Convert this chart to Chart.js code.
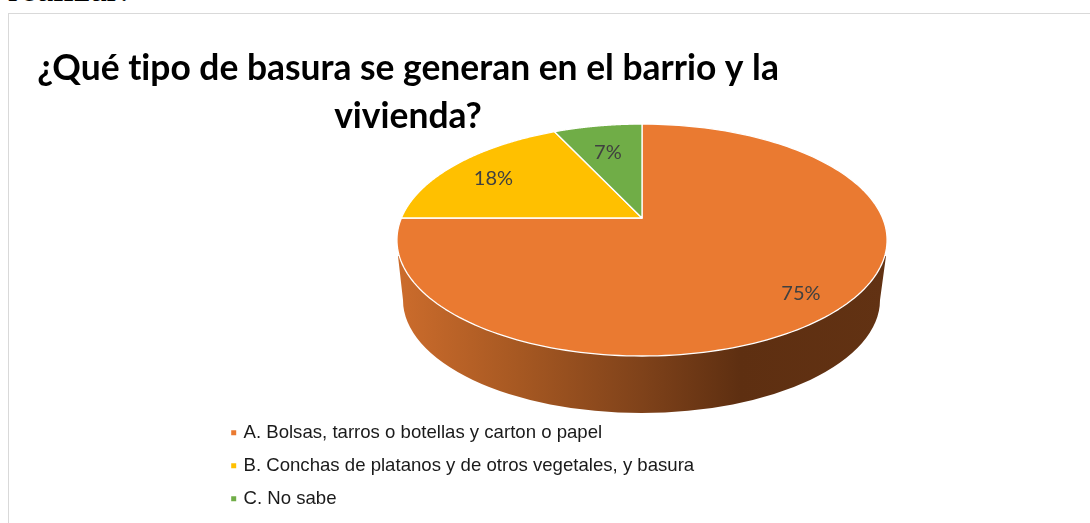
<!DOCTYPE html>
<html lang="es">
<head>
<meta charset="utf-8">
<title>Basura</title>
<script src="https://cdn.jsdelivr.net/npm/chart.js@4/dist/chart.umd.min.js"></script>
<style>
html,body{margin:0;padding:0;background:#fff;width:1090px;height:523px;overflow:hidden}
#intro{position:absolute;left:8px;top:-31px;font:37px/40px "Liberation Serif",serif;color:#000;white-space:nowrap}
#frame{position:absolute;left:8px;top:13px;width:1100px;height:540px;border:1.5px solid #d9d9d9;box-sizing:border-box}
canvas{position:absolute;left:0;top:0}
</style>
</head>
<body>
<div id="intro">realizar:</div>
<div id="frame"></div>
<canvas id="c" width="1090" height="523"></canvas>
<script>
const titleLines = ['¿Qué tipo de basura se generan en el barrio y la', 'vivienda?'];
const categories = ['A. Bolsas, tarros o botellas y carton o papel', 'B. Conchas de platanos y de otros vegetales, y basura', 'C. No sabe'];
const values = [75, 18, 7];
const colors = ['#EA7A31', '#FFC000', '#70AD47'];
const labelRadius = [0.83, 0.79, 0.74];

// Perspective view of the pie plate
const view = { cx: 642, cy: 218, bx: 240.6, by: 111.8, k: 0.19 };
const project = (angle, f) => {
  const u = Math.cos(angle) * f, v = -Math.sin(angle) * f, w = 1 + view.k * v;
  return { x: view.cx + view.bx * u / w, y: view.cy - view.by * v / w };
};

const pie3d = {
  id: 'pie3d',
  afterLayout(chart) {
    const t = chart.titleBlock;
    t.left = 8; t.right = 808; t.top = 35;
    const l = chart.legend;
    l.left = 218.8; l.top = 409; l.right = 1000; l.bottom = 523;
  },
  beforeDraw(chart) {
    chart.ctx.letterSpacing = '0.001px';
  },
  beforeDatasetDraw(chart, args) {
    const ctx = chart.ctx;
    const arcs = chart.getDatasetMeta(args.index).data;
    ctx.save();
    // side wall
    const g = ctx.createLinearGradient(397, 0, 887, 0);
    g.addColorStop(0, '#CC6C2C');
    g.addColorStop(0.25, '#A65822');
    g.addColorStop(0.5, '#7F421A');
    g.addColorStop(0.7, '#5E2F11');
    g.addColorStop(1, '#623213');
    ctx.beginPath();
    ctx.moveTo(398, 256);
    ctx.lineTo(403, 300);
    ctx.ellipse(641.5, 300, 238.5, 113, 0, Math.PI, 0, true);
    ctx.lineTo(886, 256);
    ctx.closePath();
    ctx.fillStyle = g;
    ctx.fill();
    // top faces
    arcs.forEach((arc, i) => {
      const a0 = arc.startAngle, a1 = arc.endAngle, n = 180;
      ctx.beginPath();
      ctx.moveTo(view.cx, view.cy);
      for (let s = 0; s <= n; s++) {
        const p = project(a0 + (a1 - a0) * s / n, 1);
        ctx.lineTo(p.x, p.y);
      }
      ctx.closePath();
      ctx.fillStyle = colors[i];
      ctx.fill();
      ctx.lineJoin = 'round';
      ctx.strokeStyle = '#fff';
      ctx.lineWidth = 1.3;
      ctx.stroke();
    });
    // labels
    ctx.fillStyle = '#404040';
    ctx.font = '20px Lato';
    ctx.textAlign = 'center';
    ctx.textBaseline = 'middle';
    const labelShift = [2, 4, 6];
    arcs.forEach((arc, i) => {
      const p = project((arc.startAngle + arc.endAngle) / 2, labelRadius[i]);
      ctx.fillText(values[i] + '%', p.x, p.y + labelShift[i]);
    });
    ctx.restore();
    return false;
  }
};

new Chart(document.getElementById('c'), {
  type: 'pie',
  data: { labels: categories, datasets: [{ data: values, backgroundColor: colors, borderColor: '#fff', borderWidth: 0 }] },
  plugins: [pie3d],
  options: {
    responsive: false,
    animation: false,
    layout: { padding: 0 },
    plugins: {
      tooltip: { enabled: false },
      title: {
        display: true,
        text: titleLines,
        color: '#000',
        font: { family: 'Lato', size: 35.4, weight: 'bold', lineHeight: 1.35 }
      },
      legend: {
        display: true,
        position: 'left',
        align: 'start',
        labels: {
          usePointStyle: true,
          pointStyle: 'rect',
          boxWidth: 1,
          boxHeight: 5,
          padding: 14.4,
          color: '#1a1a1a',
          font: { family: '"Liberation Sans"', size: 18.6 }
        }
      }
    }
  }
});
</script>
</body>
</html>
